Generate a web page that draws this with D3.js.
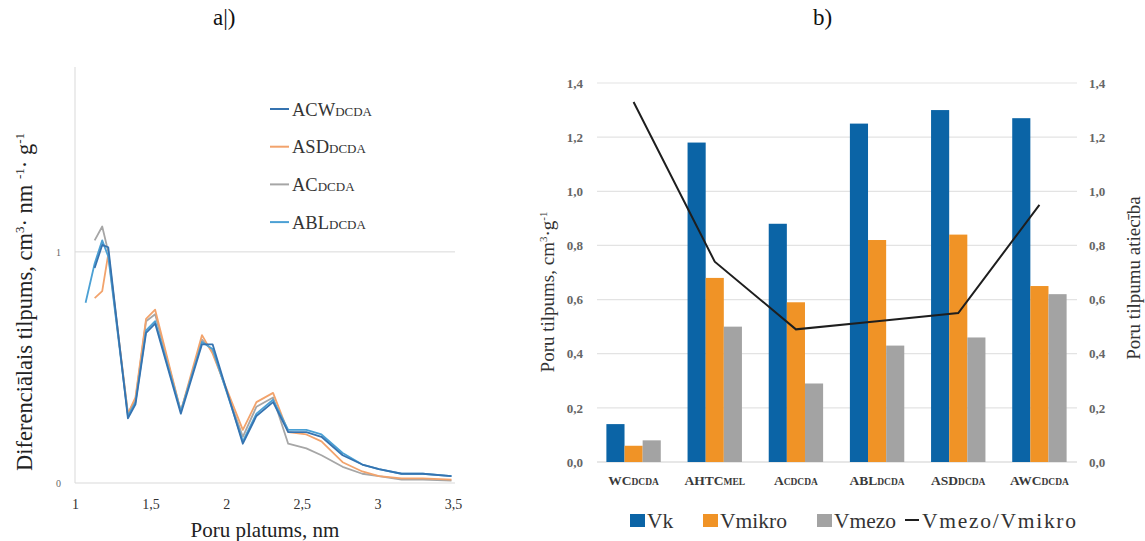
<!DOCTYPE html>
<html>
<head>
<meta charset="utf-8">
<script src="https://cdn.jsdelivr.net/npm/d3@7"></script>
<style>
  html, body { margin: 0; padding: 0; background: #fff; }
  svg { display: block; }
</style>
</head>
<body>
<svg id="chart" width="1145" height="541"></svg>
<script>
// ---- a) differential pore volume vs pore width ----
const poreWidth = [1.07, 1.13, 1.18, 1.22, 1.35, 1.40, 1.47, 1.53, 1.70, 1.84, 1.91, 2.11, 2.20, 2.31, 2.41, 2.53, 2.63, 2.77, 2.90, 3.01, 3.16, 3.30, 3.49];
const dvACW = [null, 0.93, 1.03, 1.02, 0.28, 0.34, 0.65, 0.69, 0.30, 0.60, 0.60, 0.17, 0.29, 0.35, 0.22, 0.22, 0.20, 0.12, 0.08, 0.06, 0.04, 0.04, 0.03];
const dvASD = [null, 0.80, 0.83, 0.99, 0.30, 0.37, 0.71, 0.75, 0.31, 0.64, 0.56, 0.23, 0.35, 0.39, 0.22, 0.21, 0.18, 0.09, 0.05, 0.03, 0.02, 0.02, 0.015];
const dvAC  = [null, 1.05, 1.11, 1.00, 0.30, 0.36, 0.70, 0.73, 0.31, 0.62, 0.57, 0.20, 0.33, 0.37, 0.17, 0.15, 0.12, 0.07, 0.04, 0.03, 0.015, 0.015, 0.01];
const dvABL = [0.78, 0.95, 1.05, 0.98, 0.29, 0.35, 0.66, 0.70, 0.31, 0.61, 0.58, 0.18, 0.30, 0.36, 0.23, 0.23, 0.21, 0.13, 0.08, 0.06, 0.04, 0.04, 0.03];
const seriesNames = ["ACW", "ASD", "AC", "ABL"];
const seriesColors = ["#3573b0", "#f2a36c", "#a6a6a6", "#4ba0d4"];
const xTicksA = [1, 1.5, 2, 2.5, 3, 3.5];
const yTicksA = [0, 1];

// ---- b) pore volumes per sample ----
const samples = [["WC", "DCDA"], ["AHTC", "MEL"], ["A", "CDCDA"], ["ABL", "DCDA"], ["ASD", "DCDA"], ["AWC", "DCDA"]];
const vk     = [0.14, 1.18, 0.88, 1.25, 1.30, 1.27];
const vmikro = [0.06, 0.68, 0.59, 0.82, 0.84, 0.65];
const vmezo  = [0.08, 0.50, 0.29, 0.43, 0.46, 0.62];
const ratio  = [1.33, 0.74, 0.49, 0.52, 0.55, 0.95];
const barNames = ["Vk", "Vmikro", "Vmezo"];
const barColors = ["#0b64a6", "#f09326", "#a3a3a3"];
const yTicksB = [0, 0.2, 0.4, 0.6, 0.8, 1.0, 1.2, 1.4];

const SERIF = "'Liberation Serif', 'Times New Roman', serif";
const svg = d3.select("#chart");
const fmt = d => d3.format(".1f")(d).replace(".", ",");
const fmtA = d => String(d).replace(".", ",");

// panel titles
svg.append("text").attr("x", 213).attr("y", 25).attr("font-size", 23).attr("fill", "#111").text("a|)");
svg.append("text").attr("x", 813).attr("y", 25).attr("font-size", 23).attr("fill", "#111").text("b)");

// ================= panel a =================
const xA = d3.scaleLinear().domain([1, 3.5]).range([75, 453]);
const yA = d3.scaleLinear().domain([0, 1.8]).range([483, 67]);
const gA = svg.append("g");

gA.selectAll("line.grid").data(yTicksA).join("line")
  .attr("x1", 75).attr("x2", 455)
  .attr("y1", d => yA(d)).attr("y2", d => yA(d))
  .attr("stroke", "#d9d9d9").attr("stroke-width", 1);
gA.append("line").attr("x1", 75).attr("x2", 75).attr("y1", 67).attr("y2", 483)
  .attr("stroke", "#d9d9d9").attr("stroke-width", 1);

const axA = gA.append("g").attr("transform", "translate(0,483)")
  .call(d3.axisBottom(xA).tickValues(xTicksA).tickSize(0).tickPadding(16).tickFormat(fmtA));
axA.select(".domain").remove();
axA.selectAll("text").attr("font-size", 14).attr("fill", "#333");
const ayA = gA.append("g").attr("transform", "translate(75,0)")
  .call(d3.axisLeft(yA).tickValues(yTicksA).tickSize(0).tickPadding(14).tickFormat(d => String(d)));
ayA.select(".domain").remove();
ayA.selectAll("text").attr("font-size", 10).attr("fill", "#666");

// curves
const curveData = [dvACW, dvASD, dvAC, dvABL];
const lineA = d3.line().defined(d => d[1] != null).x(d => xA(d[0])).y(d => yA(d[1]));
[2, 1, 3, 0].forEach(i => {
  const pts = poreWidth.map((x, k) => [x, curveData[i][k]]);
  gA.append("path").attr("d", lineA(pts)).attr("fill", "none")
    .attr("stroke", seriesColors[i]).attr("stroke-width", 1.8).attr("stroke-linejoin", "round");
});

// legend
seriesNames.forEach((n, i) => {
  const y = 109 + i * 37.7;
  gA.append("line").attr("x1", 270).attr("x2", 289).attr("y1", y).attr("y2", y)
    .attr("stroke", seriesColors[i]).attr("stroke-width", 2);
  const t = gA.append("text").attr("x", 292).attr("y", y + 6.5).attr("font-size", 18.5).attr("fill", "#333");
  t.append("tspan").text(n);
  t.append("tspan").attr("font-size", 13).text("DCDA");
});

// axis titles
svg.append("text").attr("x", 265).attr("y", 537).attr("text-anchor", "middle")
  .attr("font-size", 21).attr("fill", "#222").text("Poru platums, nm");
const ytA = svg.append("text").attr("transform", "translate(32,302) rotate(-90)")
  .attr("text-anchor", "middle").attr("font-size", 22.5).attr("fill", "#222");
ytA.append("tspan").text("Diferenciālais  tilpums, cm");
ytA.append("tspan").attr("font-size", 13).attr("dy", -8).text("3");
ytA.append("tspan").attr("dy", 8).text("· nm ");
ytA.append("tspan").attr("font-size", 13).attr("dy", -8).text("-1");
ytA.append("tspan").attr("dy", 8).text("· g");
ytA.append("tspan").attr("font-size", 13).attr("dy", -8).text("-1");

// ================= panel b =================
const x0 = d3.scaleBand().domain(d3.range(samples.length)).range([593, 1080]).paddingInner(0.33).paddingOuter(0.165);
const x1 = d3.scaleBand().domain(d3.range(3)).range([0, x0.bandwidth()]);
const yB = d3.scaleLinear().domain([0, 1.4]).range([462, 83]);
const gB = svg.append("g");

gB.selectAll("line.grid").data(yTicksB).join("line")
  .attr("x1", 597).attr("x2", 1077)
  .attr("y1", d => yB(d)).attr("y2", d => yB(d))
  .attr("stroke", d => d === 0 ? "#d0d0d0" : "#e3e3e3").attr("stroke-width", 1.2);

const ayL = gB.append("g").attr("transform", "translate(583,0)")
  .call(d3.axisLeft(yB).tickValues(yTicksB).tickSize(0).tickPadding(0).tickFormat(fmt));
ayL.select(".domain").remove();
ayL.selectAll("text").attr("font-size", 13).attr("font-weight", "bold").attr("fill", "#666");
const ayR = gB.append("g").attr("transform", "translate(1089,0)")
  .call(d3.axisRight(yB).tickValues(yTicksB).tickSize(0).tickPadding(0).tickFormat(fmt));
ayR.select(".domain").remove();
ayR.selectAll("text").attr("font-size", 13).attr("font-weight", "bold").attr("fill", "#666");

// bars
const barData = [vk, vmikro, vmezo];
samples.forEach((s, i) => {
  barData.forEach((arr, j) => {
    gB.append("rect")
      .attr("x", x0(i) + x1(j)).attr("width", x1.bandwidth())
      .attr("y", yB(arr[i])).attr("height", yB(0) - yB(arr[i]))
      .attr("fill", barColors[j]);
  });
});

// ratio line
const cx = i => x0(i) + x0.bandwidth() / 2;
const lineB = d3.line().x((d, i) => cx(i)).y(d => yB(d));
gB.append("path").attr("d", lineB(ratio)).attr("fill", "none")
  .attr("stroke", "#1e1e1e").attr("stroke-width", 2);

// category labels
samples.forEach((s, i) => {
  const t = gB.append("text").attr("x", cx(i)).attr("y", 485).attr("text-anchor", "middle")
    .attr("font-size", 13.5).attr("font-weight", "bold").attr("fill", "#3a3a3a");
  t.append("tspan").text(s[0]);
  t.append("tspan").attr("font-size", 9.5).text(s[1]);
});

// axis titles
const ytL = svg.append("text").attr("transform", "translate(554,292) rotate(-90)")
  .attr("text-anchor", "middle").attr("font-size", 19).attr("fill", "#333");
ytL.append("tspan").text("Poru tilpums, cm");
ytL.append("tspan").attr("font-size", 11).attr("dy", -7).text("3");
ytL.append("tspan").attr("dy", 7).text("·g");
ytL.append("tspan").attr("font-size", 11).attr("dy", -7).text("-1");
svg.append("text").attr("transform", "translate(1140,278) rotate(-90)")
  .attr("text-anchor", "middle").attr("font-size", 19).attr("fill", "#333").text("Poru tilpumu atiecība");

// bottom legend
const legB = [
  { x: 630, name: barNames[0], color: barColors[0], kind: "rect", len: null },
  { x: 703, name: barNames[1], color: barColors[1], kind: "rect", len: null },
  { x: 817, name: barNames[2], color: barColors[2], kind: "rect", len: null },
  { x: 905, name: "Vmezo/Vmikro", color: "#1e1e1e", kind: "line", len: 154 }
];
legB.forEach(l => {
  if (l.kind === "rect") {
    gB.append("rect").attr("x", l.x).attr("y", 514).attr("width", 15).attr("height", 13).attr("fill", l.color);
  } else {
    gB.append("line").attr("x1", l.x).attr("x2", l.x + 14).attr("y1", 520).attr("y2", 520)
      .attr("stroke", l.color).attr("stroke-width", 2);
  }
  const t = gB.append("text").attr("x", l.x + 17).attr("y", 528).attr("font-size", 21.5)
    .attr("fill", "#333").text(l.name);
  if (l.len) t.attr("textLength", l.len).attr("lengthAdjust", "spacing");
});

// every label uses the serif face
svg.selectAll("text").attr("font-family", SERIF);
</script>
</body>
</html>
